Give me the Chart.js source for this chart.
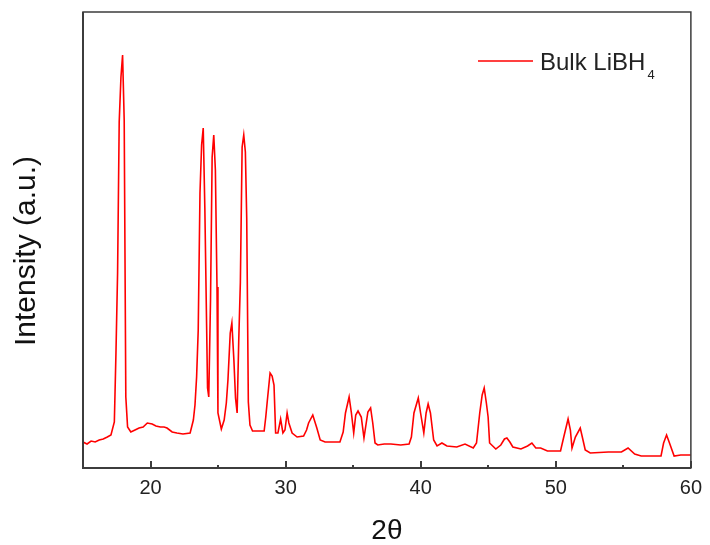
<!DOCTYPE html>
<html>
<head>
<meta charset="utf-8">
<script src="https://cdn.jsdelivr.net/npm/chart.js@4.4.0/dist/chart.umd.min.js"></script>
<style>
  html, body { margin: 0; padding: 0; background: #fff; }
</style>
</head>
<body>
<canvas id="xrd" width="710" height="545"></canvas>
<script>
// XRD pattern of bulk LiBH4
const seriesLabel = 'Bulk LiBH';
const seriesSub = '4';
const yTitle = 'Intensity (a.u.)';
const xTickLabels = [20, 30, 40, 50, 60];

const twoTheta = [
  15.00, 15.30, 15.60, 15.90, 16.20, 16.50, 16.80, 17.07, 17.32, 17.44,
  17.56, 17.68, 17.81, 17.93, 18.05, 18.17, 18.30, 18.54, 18.85, 19.15,
  19.45, 19.76, 20.12, 20.40, 20.73, 21.00, 21.22, 21.60, 21.95, 22.40,
  22.93, 23.17, 23.29, 23.41, 23.53, 23.66, 23.78, 23.90, 24.02, 24.15,
  24.22, 24.31, 24.44, 24.56, 24.68, 24.80, 24.92, 24.99, 25.24, 25.45,
  25.61, 25.73, 25.90, 26.02, 26.17, 26.29, 26.41, 26.53, 26.65, 26.78,
  26.90, 27.02, 27.12, 27.24, 27.36, 27.55, 28.00, 28.41, 28.53, 28.65,
  28.85, 29.00, 29.14, 29.26, 29.43, 29.63, 29.80, 29.95, 30.11, 30.24,
  30.48, 30.85, 31.33, 31.55, 31.70, 32.01, 32.31, 32.56, 32.92, 33.50,
  34.02, 34.26, 34.43, 34.70, 34.87, 35.04, 35.19, 35.36, 35.60, 35.80,
  36.09, 36.29, 36.45, 36.62, 36.82, 37.30, 37.79, 38.52, 39.14, 39.31,
  39.50, 39.82, 39.99, 40.23, 40.40, 40.55, 40.72, 40.96, 41.21, 41.57,
  41.94, 42.67, 43.28, 43.89, 44.13, 44.37, 44.55, 44.70, 44.86, 44.99,
  45.10, 45.56, 45.93, 46.20, 46.38, 46.60, 46.82, 47.42, 47.91, 48.23,
  48.52, 48.88, 49.38, 50.35, 50.59, 50.91, 51.08, 51.20, 51.45, 51.81,
  51.98, 52.18, 52.55, 53.89, 54.86, 55.35, 55.84, 56.32, 57.79, 57.98,
  58.20, 58.39, 58.76, 59.25, 60.00
];
const intensity = [
  26, 24, 27, 26, 28, 29, 31, 33, 46, 115,
  195, 346, 391, 413, 348, 71, 41, 36, 38, 40,
  41, 45, 44, 42, 41, 41, 40, 36, 35, 34,
  35, 48, 63, 91, 138, 275, 323, 340, 260, 143,
  80, 71, 168, 311, 333, 298, 181, 55, 39, 48,
  65, 88, 135, 145, 108, 70, 55, 128, 186, 321,
  333, 316, 250, 66, 43, 37, 37, 37, 51, 68,
  95, 92, 83, 35, 35, 49, 35, 38, 55, 45,
  35, 31, 32, 38, 45, 53, 40, 28, 26, 26,
  26, 36, 55, 71, 55, 35, 53, 57, 51, 30,
  56, 60, 45, 25, 23, 24, 24, 23, 24, 31,
  55, 70, 55, 35, 55, 64, 55, 28, 22, 25,
  22, 21, 24, 20, 25, 55, 73, 80, 65, 51,
  25, 19, 23, 29, 30, 26, 21, 19, 22, 25,
  20, 20, 17, 17, 31, 49, 38, 20, 31, 40,
  30, 18, 15, 16, 16, 20, 14, 12, 12, 25,
  33, 26, 12, 13, 13
];

const axisColor = '#3c3c3c';
const fontFamily = '"Liberation Sans", Arial, sans-serif';

// box around the plot, inward tick marks and the y title
const framePlugin = {
  id: 'frame',
  afterDatasetsDraw(chart) {
    const { ctx, chartArea: a, scales: { x } } = chart;
    ctx.save();
    ctx.strokeStyle = axisColor;
    ctx.lineWidth = 1.5;
    ctx.strokeRect(a.left, a.top, a.right - a.left, a.bottom - a.top);
    ctx.lineWidth = 2;
    ctx.beginPath();
    ctx.moveTo(a.left, a.top);
    ctx.lineTo(a.left, a.bottom);
    ctx.lineTo(a.right, a.bottom);
    ctx.stroke();
    x.ticks.forEach(t => {
      const px = Math.round(x.getPixelForValue(t.value));
      const len = t.value % 10 === 0 ? 7 : 3;
      ctx.beginPath();
      ctx.moveTo(px, a.bottom);
      ctx.lineTo(px, a.bottom - len);
      ctx.stroke();
    });

    ctx.translate(27, 251);
    ctx.rotate(-Math.PI / 2);
    ctx.fillStyle = '#111';
    ctx.font = '30px ' + fontFamily;
    ctx.textAlign = 'center';
    ctx.textBaseline = 'middle';
    ctx.fillText(yTitle, 0, 0);
    ctx.restore();
  }
};

// legend with subscript
const legendPlugin = {
  id: 'subLegend',
  afterDraw(chart) {
    const { ctx } = chart;
    const ds = chart.data.datasets[0];
    ctx.save();
    ctx.strokeStyle = ds.borderColor;
    ctx.lineWidth = 1.5;
    ctx.beginPath();
    ctx.moveTo(478, 61);
    ctx.lineTo(533, 61);
    ctx.stroke();
    ctx.fillStyle = '#222';
    ctx.textBaseline = 'alphabetic';
    ctx.font = '24px ' + fontFamily;
    ctx.fillText(ds.label, 540, 70);
    const w = ctx.measureText(ds.label).width;
    ctx.font = '13px ' + fontFamily;
    ctx.fillText(seriesSub, 540 + w + 2, 79);
    ctx.restore();
  }
};

const points = twoTheta.map((t, i) => ({ x: t, y: intensity[i] }));

new Chart(document.getElementById('xrd'), {
  type: 'line',
  data: {
    datasets: [{
      label: seriesLabel,
      data: points,
      borderColor: '#ff0000',
      borderWidth: 1.6,
      pointRadius: 0,
      tension: 0,
      fill: false
    }]
  },
  options: {
    responsive: false,
    animation: false,
    layout: { padding: { top: 12, right: 12, left: 0, bottom: 0 } },
    plugins: { legend: { display: false }, tooltip: { enabled: false } },
    scales: {
      x: {
        type: 'linear',
        min: 15,
        max: 60,
        grid: { display: false, drawTicks: false },
        border: { display: false },
        ticks: {
          stepSize: 5,
          autoSkip: false,
          maxRotation: 0,
          padding: 8,
          color: '#222',
          font: { family: fontFamily, size: 20 },
          callback: v => xTickLabels.includes(v) ? String(v) : ''
        },
        title: {
          display: true,
          text: '2θ',
          color: '#111',
          font: { family: fontFamily, size: 28, lineHeight: 1 },
          padding: { top: 0, bottom: 0 }
        },
        afterFit: s => { s.height = 77; }
      },
      y: {
        min: 0,
        max: 456,
        grid: { display: false, drawTicks: false },
        border: { display: false },
        ticks: { display: false },
        title: { display: false },
        afterFit: s => { s.width = 83; }
      }
    }
  },
  plugins: [framePlugin, legendPlugin]
});
</script>
</body>
</html>
